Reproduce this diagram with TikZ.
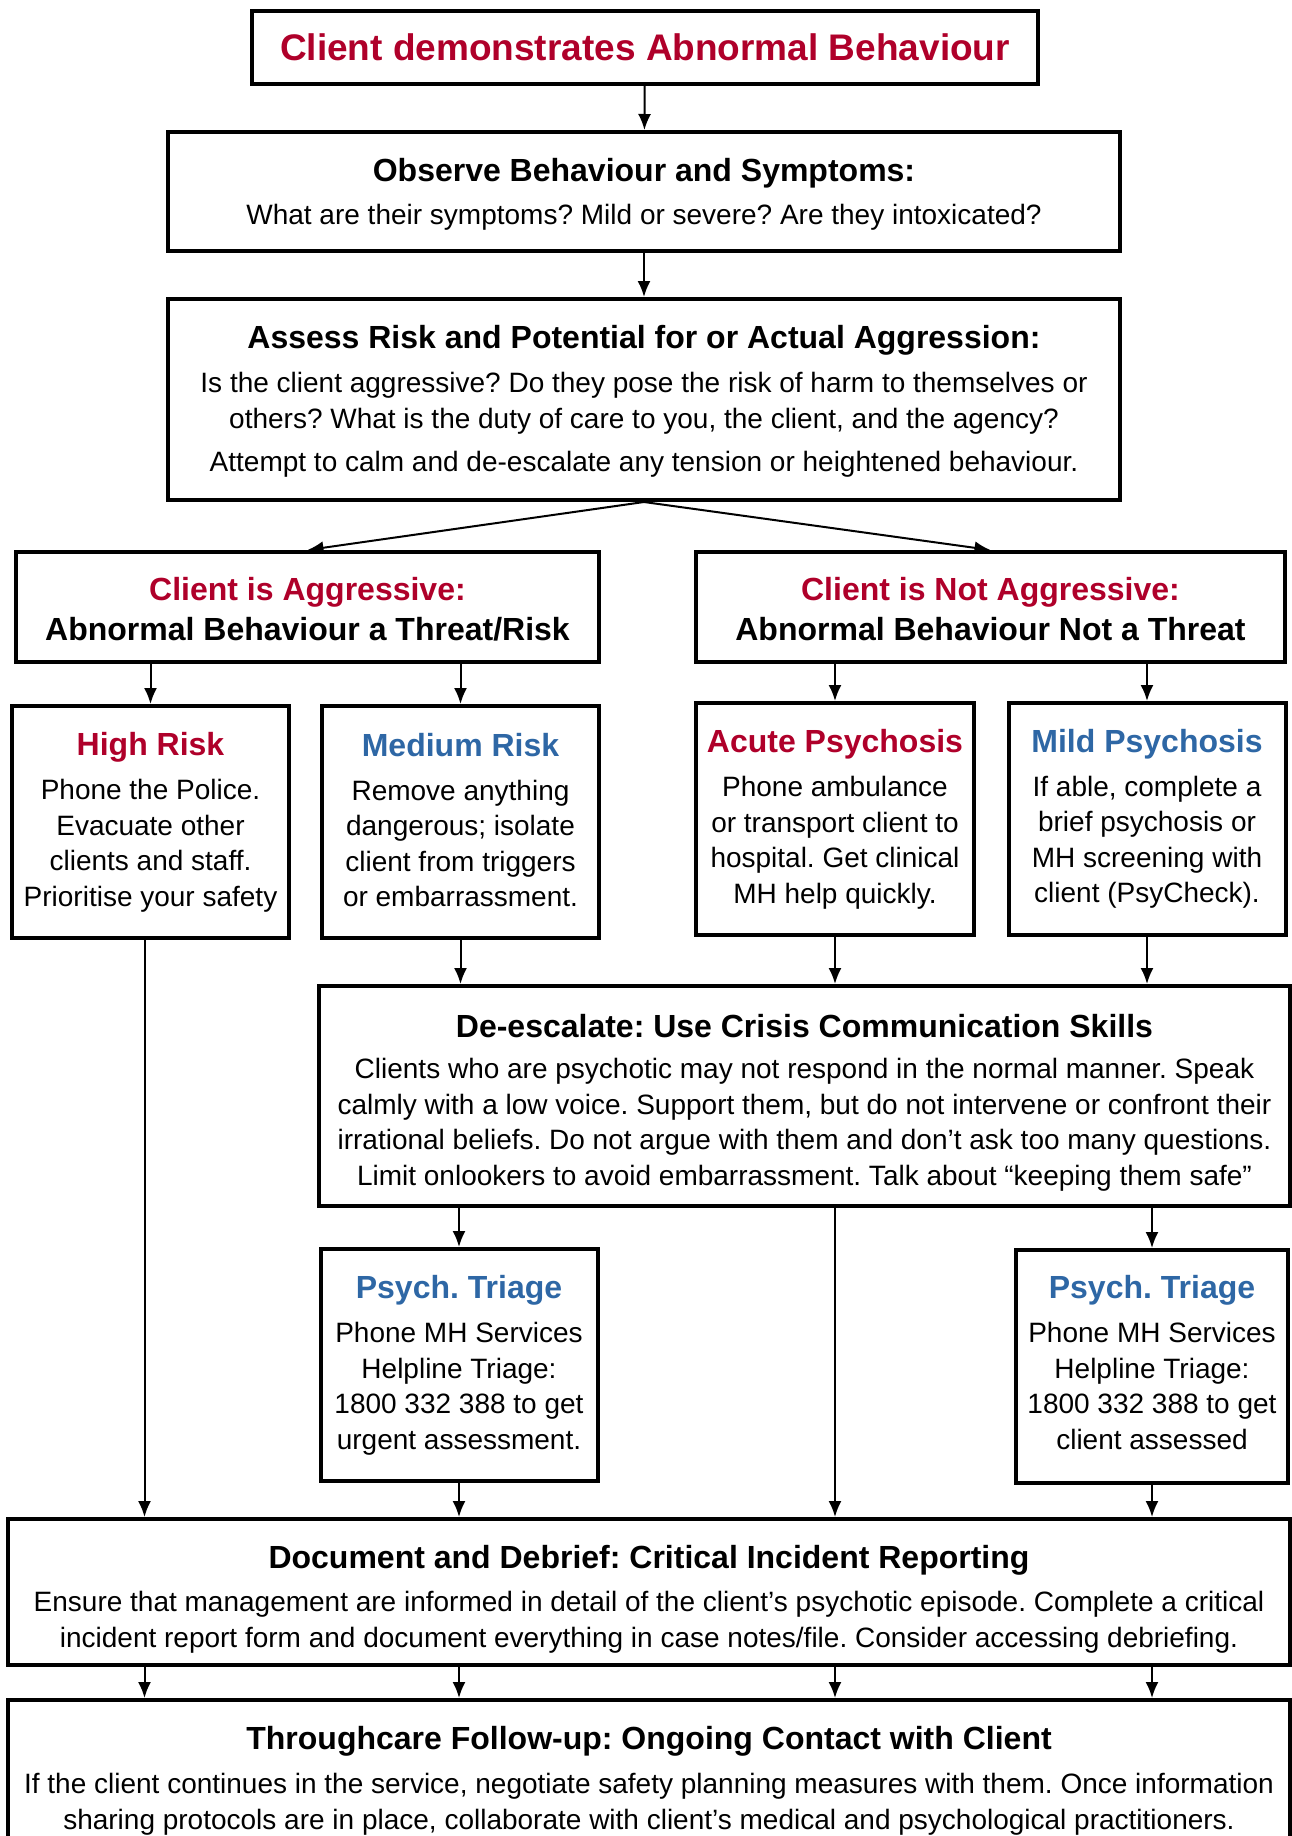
\documentclass[tikz,border=0pt]{standalone}
\usepackage{fontspec}
\setmainfont{Liberation Sans}
\usetikzlibrary{arrows.meta}
\definecolor{alertred}{RGB}{175,0,42}
\definecolor{calmblue}{RGB}{46,103,165}
\newcommand{\redhead}[1]{{\fontsize{32}{38}\selectfont\bfseries\color{alertred}#1}}
\newcommand{\bluehead}[1]{{\fontsize{32}{38}\selectfont\bfseries\color{calmblue}#1}}
\newcommand{\blackhead}[1]{{\fontsize{32}{38}\selectfont\bfseries#1}}
\newcommand{\topgap}[1]{\rule{0pt}{#1pt}}
\frenchspacing

\begin{document}
\begin{tikzpicture}[x=1pt,y=-1pt,-{Latex[length=16pt,width=13pt]},line width=2pt,
box/.style={draw,rectangle,line width=4pt,inner sep=0pt,align=center,
  font=\fontsize{28}{35.5}\selectfont}]

\useasboundingbox (0,0) rectangle (1292,1836);

\node[box,minimum width=786pt,minimum height=73pt] (T) at (645,47.5)
  {{\fontsize{37}{44}\selectfont\bfseries\color{alertred}Client demonstrates Abnormal Behaviour}};
\node[box,minimum width=952pt,minimum height=119pt] (O) at (644,191.5)
  {\topgap{29}\blackhead{Observe Behaviour and Symptoms:}\\[8pt]
   What are their symptoms? Mild or severe? Are they intoxicated?};
\node[box,minimum width=952pt,minimum height=201pt] (A) at (644,399.5)
  {\topgap{27}\blackhead{Assess Risk and Potential for or Actual Aggression:}\\[9pt]
   Is the client aggressive? Do they pose the risk of harm to themselves or\\
   others? What is the duty of care to you, the client, and the agency?\\[8pt]
   Attempt to calm and de-escalate any tension or heightened behaviour.};
\path (T) edge (O);
\path (O) edge (A);

% two branches
\node[box,minimum width=583pt,minimum height=110pt] (AG) at (307.5,607)
  {\topgap{28}\redhead{Client is Aggressive:}\\[4.5pt]\blackhead{Abnormal Behaviour a Threat/Risk}};
\node[box,minimum width=589pt,minimum height=110pt] (NA) at (990.5,607)
  {\topgap{28}\redhead{Client is Not Aggressive:}\\[4.5pt]\blackhead{Abnormal Behaviour Not a Threat}};
\path (A.south) edge (AG.north);
\path (A.south) edge (NA.north);

\node[box,minimum width=277pt,minimum height=232pt] (H) at (150.5,822)
  {\redhead{High Risk}\\[9pt]Phone the Police.\\Evacuate other\\clients and staff.\\Prioritise your safety};
\node[box,minimum width=277pt,minimum height=232pt] (M) at (460.5,822)
  {\bluehead{Medium Risk}\\[8pt]Remove anything\\dangerous; isolate\\client from triggers\\or embarrassment.\rule[-4pt]{0pt}{4pt}};
\node[box,minimum width=278pt,minimum height=232pt] (AP) at (835,819)
  {\redhead{Acute Psychosis}\\[9pt]Phone ambulance\\or transport client to\\hospital. Get clinical\\MH help quickly.};
\node[box,minimum width=277pt,minimum height=232pt] (MP) at (1147,819)
  {\bluehead{Mild Psychosis}\\[8pt]If able, complete a\\brief psychosis or\\MH screening with\\client (PsyCheck).};
\path (H.north |- AG.south) edge (H.north);
\path (M.north |- AG.south) edge (M.north);
\path (AP.north |- NA.south) edge (AP.north);
\path (MP.north |- NA.south) edge (MP.north);

\node[box,minimum width=971pt,minimum height=220pt] (D) at (804.5,1096)
  {\topgap{36}\blackhead{De-escalate: Use Crisis Communication Skills}\\[6pt]
   Clients who are psychotic may not respond in the normal manner. Speak\\
   calmly with a low voice. Support them, but do not intervene or confront their\\
   irrational beliefs. Do not argue with them and don’t ask too many questions.\\
   Limit onlookers to avoid embarrassment. Talk about “keeping them safe”};
\path (M.south) edge (M.south |- D.north);
\path (AP.south) edge (AP.south |- D.north);
\path (MP.south) edge (MP.south |- D.north);

\node[box,minimum width=277pt,minimum height=232pt] (PL) at (459,1365)
  {\bluehead{Psych. Triage}\\[9pt]Phone MH Services\\Helpline Triage:\\1800 332 388 to get\\urgent assessment.};
\node[box,minimum width=272pt,minimum height=233pt] (PR) at (1152,1366.5)
  {\bluehead{Psych. Triage}\\[9pt]Phone MH Services\\Helpline Triage:\\1800 332 388 to get\\client assessed\rule[-9pt]{0pt}{9pt}};
\path (PL.north |- D.south) edge (PL.north);
\path (PR.north |- D.south) edge (PR.north);

\node[box,minimum width=1282pt,minimum height=146pt] (R) at (649,1592)
  {\topgap{37}\blackhead{Document and Debrief: Critical Incident Reporting}\\[8pt]
   Ensure that management are informed in detail of the client’s psychotic episode. Complete a critical\\
   incident report form and document everything in case notes/file. Consider accessing debriefing.};
\node[box,minimum width=1282pt,minimum height=157pt] (F) at (649,1778.5)
  {\topgap{27}\blackhead{Throughcare Follow-up: Ongoing Contact with Client}\\[9pt]
   If the client continues in the service, negotiate safety planning measures with them. Once information\\
   sharing protocols are in place, collaborate with client’s medical and psychological practitioners.};
\path ([xshift=-6pt]H.south) edge ([xshift=-6pt]H.south |- R.north);
\path (AP.south |- D.south) edge (AP.south |- R.north);
\path (PL.south) edge (PL.south |- R.north);
\path (PR.south) edge (PR.south |- R.north);

\path ([xshift=-6pt]H.south |- R.south) edge ([xshift=-6pt]H.south |- F.north);
\path (PL.south |- R.south) edge (PL.south |- F.north);
\path (AP.south |- R.south) edge (AP.south |- F.north);
\path (PR.south |- R.south) edge (PR.south |- F.north);

\end{tikzpicture}
\end{document}
